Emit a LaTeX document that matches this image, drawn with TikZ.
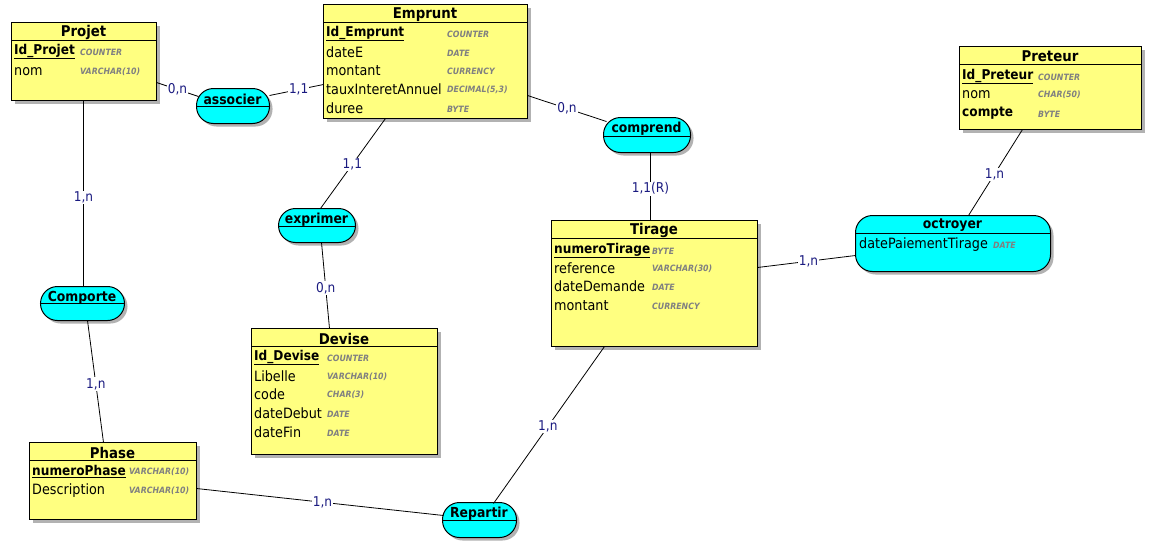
\documentclass[tikz,border=0pt]{standalone}
\usepackage{fontspec}
\setmainfont{DejaVu Sans}[FakeStretch=0.9]
\usetikzlibrary{shadows}
\definecolor{entfill}{HTML}{FFFF80}
\definecolor{assocfill}{HTML}{00FFFF}
\definecolor{lblcol}{HTML}{1A1A80}
\definecolor{typecol}{HTML}{808080}
\begin{document}
\begin{tikzpicture}[x=1pt,y=-1pt,
  box/.style={draw=black, line width=1pt, anchor=north west, inner sep=0pt,
    drop shadow={shadow xshift=3pt, shadow yshift=-3pt, opacity=1, fill=black!30}},
  entity/.style={box, fill=entfill},
  assoc/.style={box, fill=assocfill, rounded corners=17pt},
  sep/.style={draw=black, line width=0.8pt},
  title/.style={font=\bfseries\fontsize{14.8}{16}\selectfont, inner sep=0pt, yshift=-1.5pt},
  atitle/.style={font=\bfseries\fontsize{13.8}{16}\selectfont, inner sep=0pt, yshift=-1pt},
  attr/.style={font=\fontsize{14.2}{16}\selectfont, anchor=west, inner sep=0pt, yshift=-1.5pt},
  pk/.style={font=\bfseries\fontsize{13.5}{16}\selectfont, anchor=west, inner sep=0pt, yshift=-1.5pt},
  typ/.style={font=\bfseries\itshape\fontsize{8.7}{10}\selectfont, text=typecol, anchor=west, inner sep=0pt, yshift=-1pt},
  link/.style={draw=black, line width=0.8pt},
  card/.style={font=\fontsize{13.5}{15}\selectfont, text=lblcol, fill=white, inner sep=1pt}]
\fill[white] (0,0) rectangle (1163,544);
\useasboundingbox (0,0) rectangle (1163,544);

% ---------- entities ----------
\node[entity, minimum width=145pt, minimum height=78pt] (projet) at (11,22) {};
\node[entity, minimum width=204pt, minimum height=114pt] (emprunt) at (323,4) {};
\node[entity, minimum width=182pt, minimum height=83pt] (preteur) at (959,46) {};
\node[entity, minimum width=206pt, minimum height=126pt] (tirage) at (551,220) {};
\node[entity, minimum width=186pt, minimum height=126pt] (devise) at (251,328) {};
\node[entity, minimum width=167pt, minimum height=77pt] (phase) at (29,442) {};

% ---------- associations ----------
\node[assoc, minimum width=73pt, minimum height=35pt] (associer) at (196,88) {};
\node[assoc, minimum width=87pt, minimum height=35pt] (comprend) at (603,117) {};
\node[assoc, minimum width=77pt, minimum height=34pt] (exprimer) at (278,208) {};
\node[assoc, minimum width=84pt, minimum height=34pt] (comporte) at (40,286) {};
\node[assoc, minimum width=74pt, minimum height=35pt] (repartir) at (442,502) {};
\node[assoc, minimum width=195pt, minimum height=56pt] (octroyer) at (855,215) {};

% ---------- separators ----------
\foreach \n/\d in {projet/18, emprunt/18, preteur/18, tirage/18, devise/18, phase/18,
                   associer/18, comprend/19, exprimer/18, comporte/17, repartir/18, octroyer/18}
  \draw[sep] ([shift={(0,\d)}]\n.north west) -- ([shift={(0,\d)}]\n.north east);

% ---------- Projet ----------
\node[title] (tprojet) at (83.5,31) {Projet};
\node[pk] (aprojet1) at (14,50) {\underline{Id\_Projet}};
\node[typ] at (80,51) {COUNTER};
\node[attr] at (14,70) {nom};
\node[typ] at (80,71) {VARCHAR(10)};

% ---------- Emprunt ----------
\node[title] (temprunt) at (425,13) {Emprunt};
\node[pk] at (326,32) {\underline{Id\_Emprunt}};
\node[typ] at (447,33) {COUNTER};
\node[attr] at (326,51) {dateE};
\node[typ] at (447,52) {DATE};
\node[attr] at (326,69) {montant};
\node[typ] at (447,70) {CURRENCY};
\node[attr] at (326,88) {tauxInteretAnnuel};
\node[typ] at (447,89) {DECIMAL(5,3)};
\node[attr] at (326,107) {duree};
\node[typ] at (447,108) {BYTE};

% ---------- Preteur ----------
\node[title] (tpreteur) at (1050,55) {Preteur};
\node[pk] at (962,75) {\underline{Id\_Preteur}};
\node[typ] at (1038,76) {COUNTER};
\node[attr] at (962,93) {nom};
\node[typ] at (1038,94) {CHAR(50)};
\node[pk] at (962,112) {compte};
\node[typ] at (1038,113) {BYTE};

% ---------- Tirage ----------
\node[title] (ttirage) at (654,229) {Tirage};
\node[pk] at (554,249) {\underline{numeroTirage}};
\node[typ] at (652,250) {BYTE};
\node[attr] at (554,267) {reference};
\node[typ] at (652,268) {VARCHAR(30)};
\node[attr] at (554,285) {dateDemande};
\node[typ] at (652,286) {DATE};
\node[attr] at (554,304) {montant};
\node[typ] at (652,305) {CURRENCY};

% ---------- Devise ----------
\node[title] (tdevise) at (344,337) {Devise};
\node[pk] at (254,356) {\underline{Id\_Devise}};
\node[typ] at (327,357) {COUNTER};
\node[attr] at (254,375) {Libelle};
\node[typ] at (327,376) {VARCHAR(10)};
\node[attr] at (254,393) {code};
\node[typ] at (327,394) {CHAR(3)};
\node[attr] at (254,412) {dateDebut};
\node[typ] at (327,413) {DATE};
\node[attr] at (254,431) {dateFin};
\node[typ] at (327,432) {DATE};

% ---------- Phase ----------
\node[title] (tphase) at (112.5,451) {Phase};
\node[pk] at (32,470) {\underline{numeroPhase}};
\node[typ] at (129,471) {VARCHAR(10)};
\node[attr] at (32,489) {Description};
\node[typ] at (129,490) {VARCHAR(10)};

% ---------- association texts ----------
\node[atitle] at (232.5,98.5) {associer};
\node[atitle] at (646.5,127.5) {comprend};
\node[atitle] at (316.5,218.5) {exprimer};
\node[atitle] at (82,296.5) {Comporte};
\node[atitle] at (479,512.5) {Repartir};
\node[atitle] at (952.5,224.5) {octroyer};
\node[attr] at (859,243) {datePaiementTirage};
\node[typ] at (993,244) {DATE};

% ---------- connectors ----------
\draw[link] ([shift={(72.5,21)}]projet.center) -- node[card, pos=0.5] {0,n} ([shift={(-34.5,-9.5)}]associer.center);
\draw[link] ([shift={(36.5,-10.5)}]associer.center) -- node[card, pos=0.54] {1,1} ([shift={(-102,23)}]emprunt.center);
\draw[link] ([shift={(102,34)}]emprunt.center) -- node[card, pos=0.5] {0,n} ([shift={(-40.5,-13.5)}]comprend.center);
\draw[link] ([shift={(3.5,17.5)}]comprend.center) -- node[card, pos=0.53] {1,1(R)} ([shift={(-4,-63)}]tirage.center);
\draw[link] ([shift={(-40,57)}]emprunt.center) -- node[card, pos=0.51] {1,1} ([shift={(3.5,-17)}]exprimer.center);
\draw[link] ([shift={(4.5,17)}]exprimer.center) -- node[card, pos=0.53] {0,n} ([shift={(-15,-63)}]devise.center);
\draw[link] ([shift={(-0.5,39)}]projet.center) -- node[card, pos=0.52] {1,n} ([shift={(1,-17)}]comporte.center);
\draw[link] ([shift={(5,17)}]comporte.center) -- node[card, pos=0.52] {1,n} ([shift={(-9.5,-38.5)}]phase.center);
\draw[link] ([shift={(83.5,7.5)}]phase.center) -- node[card, pos=0.51] {1,n} ([shift={(-36,-4.5)}]repartir.center);
\draw[link] ([shift={(-50,63)}]tirage.center) -- node[card, pos=0.51] {1,n} ([shift={(14,-16.5)}]repartir.center);
\draw[link] ([shift={(103,-16)}]tirage.center) -- node[card, pos=0.52] {1,n} ([shift={(-97.5,12)}]octroyer.center);
\draw[link] ([shift={(-28,41.5)}]preteur.center) -- node[card, pos=0.52] {1,n} ([shift={(15.5,-28)}]octroyer.center);
\end{tikzpicture}
\end{document}
